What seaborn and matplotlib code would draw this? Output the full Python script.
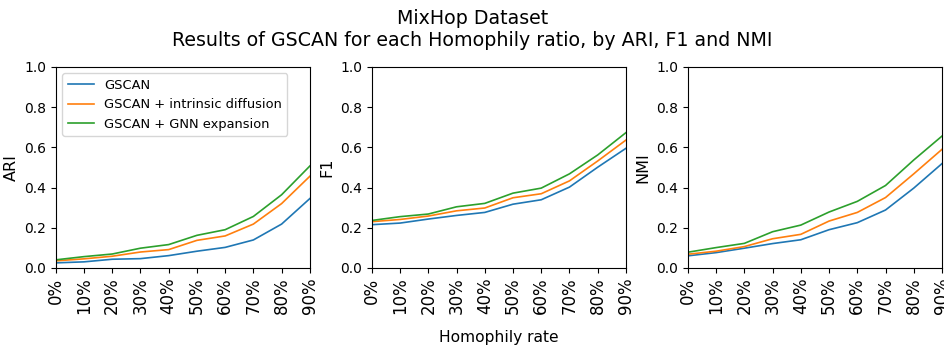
import pandas as pd
import seaborn as sns
import matplotlib.pyplot as plt

ratios = ['0%', '10%', '20%', '30%', '40%', '50%', '60%', '70%', '80%', '90%']
methods = ['GSCAN', 'GSCAN + intrinsic diffusion', 'GSCAN + GNN expansion']

ari_gscan = [0.025, 0.030, 0.043, 0.046, 0.061, 0.083, 0.102, 0.139, 0.218, 0.345]
ari_diff = [0.035, 0.045, 0.058, 0.079, 0.091, 0.137, 0.159, 0.218, 0.320, 0.456]
ari_gnn = [0.040, 0.056, 0.069, 0.098, 0.116, 0.162, 0.190, 0.256, 0.364, 0.507]

f1_gscan = [0.215, 0.223, 0.243, 0.261, 0.276, 0.317, 0.339, 0.402, 0.501, 0.595]
f1_diff = [0.230, 0.241, 0.258, 0.284, 0.298, 0.349, 0.369, 0.433, 0.532, 0.636]
f1_gnn = [0.236, 0.255, 0.268, 0.304, 0.321, 0.372, 0.397, 0.468, 0.562, 0.673]

nmi_gscan = [0.060, 0.076, 0.098, 0.121, 0.140, 0.190, 0.225, 0.288, 0.397, 0.519]
nmi_diff = [0.068, 0.083, 0.106, 0.145, 0.167, 0.233, 0.276, 0.350, 0.468, 0.590]
nmi_gnn = [0.078, 0.101, 0.122, 0.180, 0.213, 0.278, 0.331, 0.410, 0.537, 0.656]

metrics = {
    'ARI': [ari_gscan, ari_diff, ari_gnn],
    'F1': [f1_gscan, f1_diff, f1_gnn],
    'NMI': [nmi_gscan, nmi_diff, nmi_gnn],
}

# long format table for seaborn
rows = []
for metric, series in metrics.items():
    for method, values in zip(methods, series):
        for i, v in enumerate(values):
            rows.append({'metric': metric, 'method': method, 'x': i, 'value': v})
df = pd.DataFrame(rows)

fig, axes = plt.subplots(1, 3, figsize=(9.45, 3.47), dpi=100)
plt.subplots_adjust(left=0.059, right=0.9968, top=0.807, bottom=0.228, wspace=0.244)

for ax, metric in zip(axes, metrics):
    sub = df[df['metric'] == metric]
    sns.lineplot(data=sub, x='x', y='value', hue='method', hue_order=methods,
                 palette='tab10', linewidth=1.2, ax=ax, legend=(metric == 'ARI'))
    ax.set_ylim(0, 1.0)
    ax.set_xlim(0, len(ratios) - 1)
    ax.set_xticks(range(len(ratios)))
    ax.set_xticklabels(ratios, rotation=90, fontsize=12)
    ax.tick_params(axis='y', labelsize=10)
    ax.set_xlabel('')
    ax.set_ylabel(metric, fontsize=11.5)

axes[0].legend(loc='upper left', fontsize=9.4)

fig.suptitle('MixHop Dataset\nResults of GSCAN for each Homophily ratio, by ARI, F1 and NMI',
             fontsize=13.7, y=0.975)
x_mid = (axes[0].get_position().x0 + axes[2].get_position().x1) / 2
fig.text(x_mid, 0.006, 'Homophily rate', fontsize=11.2, ha='center', va='bottom')

plt.savefig('out.png')
